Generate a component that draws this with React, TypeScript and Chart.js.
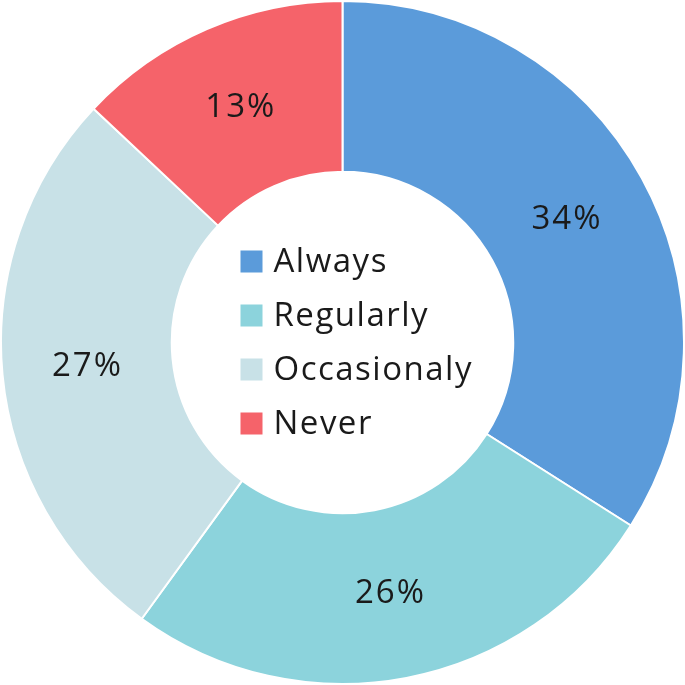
import React, { useEffect, useRef } from "react";
import { Chart, registerables } from "chart.js";

Chart.register(...registerables);

const categories = ["Always", "Regularly", "Occasionaly", "Never"];
const values = [34, 26, 27, 13];
const colors = ["#5B9BDA", "#8CD3DC", "#C8E1E7", "#F5636A"];

const FONT = '"Open Sans", "DejaVu Sans", sans-serif';

const valueLabels = {
  id: "valueLabels",
  afterDatasetsDraw(chart: any) {
    const ctx = chart.ctx;
    const meta = chart.getDatasetMeta(0);
    ctx.save();
    ctx.font = `33px ${FONT}`;
    ctx.fillStyle = "#1a1a1a";
    ctx.textAlign = "center";
    ctx.textBaseline = "middle";
    (ctx as any).letterSpacing = "2px";
    meta.data.forEach((arc: any, i: number) => {
      const p = arc.tooltipPosition();
      ctx.fillText(`${values[i]}%`, p.x, p.y);
    });
    ctx.restore();
  },
};

const centerLegend = {
  id: "centerLegend",
  afterDraw(chart: any) {
    const ctx = chart.ctx;
    const meta = chart.getDatasetMeta(0);
    const arc: any = meta.data[0];
    if (!arc) return;
    const cx = arc.x;
    const cy = arc.y;
    const rowGap = 54;
    const n = categories.length;
    const box = 22;
    ctx.save();
    ctx.font = `33px ${FONT}`;
    ctx.textBaseline = "middle";
    ctx.textAlign = "left";
    (ctx as any).letterSpacing = "1.5px";
    categories.forEach((c, i) => {
      const y = cy + (i - (n - 1) / 2) * rowGap;
      ctx.fillStyle = colors[i];
      ctx.fillRect(cx - 102, y - box / 2, box, box);
      ctx.fillStyle = "#1a1a1a";
      ctx.fillText(c, cx - 69, y + 1);
    });
    ctx.restore();
  },
};

export default function App() {
  const ref = useRef<HTMLCanvasElement | null>(null);
  useEffect(() => {
    if (!ref.current) return;
    const chart = new Chart(ref.current, {
      type: "doughnut",
      data: {
        labels: categories,
        datasets: [
          {
            data: values,
            backgroundColor: colors,
            borderColor: "#ffffff",
            borderWidth: 2,
          },
        ],
      },
      options: {
        responsive: true,
        maintainAspectRatio: false,
        animation: false,
        cutout: "50%",
        layout: { padding: 0 },
        plugins: {
          legend: { display: false },
          tooltip: { enabled: false },
        },
      },
      plugins: [valueLabels, centerLegend],
    });
    return () => chart.destroy();
  }, []);
  return (
    <div style={{ position: "absolute", left: 0, top: 0, width: 685, height: 685, background: "#fff" }}>
      <canvas ref={ref} />
    </div>
  );
}
